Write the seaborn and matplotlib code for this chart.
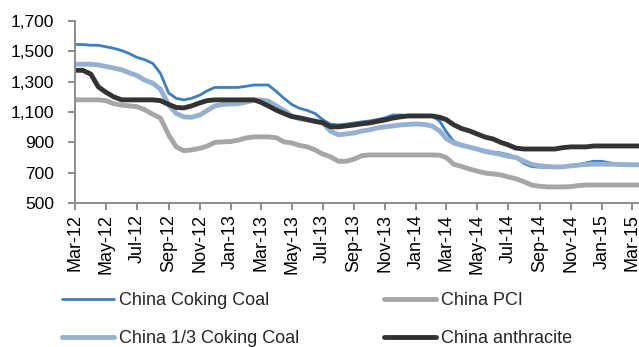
import numpy as np
import pandas as pd
import matplotlib
matplotlib.use("Agg")
import matplotlib.pyplot as plt
import matplotlib.dates as mdates
from matplotlib.ticker import FuncFormatter, FixedLocator
from matplotlib.lines import Line2D
import seaborn as sns

# Half-monthly observation dates (1st and 16th of each month), Mar 2012 - Mar 2015
dates = pd.to_datetime([f"{y}-{m:02d}-{d:02d}"
                        for y in range(2012, 2016) for m in range(1, 13) for d in (1, 16)])
dates = dates[(dates >= "2012-03-01") & (dates <= "2015-03-16")]

coking_coal = [
    1545, 1545, 1540, 1540, 1530, 1520, 1505, 1485, 1460, 1445,
    1420, 1355, 1226, 1190, 1180, 1190, 1210, 1240, 1262, 1262,
    1262, 1262, 1270, 1278, 1278, 1278, 1235, 1190, 1150, 1125,
    1110, 1090, 1050, 1020, 1015, 1020, 1028, 1035, 1041, 1050,
    1062, 1080, 1080, 1078, 1078, 1078, 1075, 1040, 970, 905,
    885, 870, 858, 848, 835, 830, 818, 800, 760, 740,
    736, 733, 735, 738, 745, 752, 765, 775, 775, 765,
    752, 750, 750, 750,
]
coking_13 = [
    1415, 1415, 1415, 1410, 1400, 1390, 1378, 1358, 1340, 1310,
    1290, 1250, 1150, 1090, 1068, 1065, 1080, 1110, 1140, 1150,
    1153, 1155, 1165, 1178, 1180, 1172, 1140, 1110, 1075, 1055,
    1048, 1040, 1028, 975, 950, 955, 962, 975, 982, 995,
    1002, 1008, 1015, 1018, 1021, 1018, 1008, 975, 925, 895,
    880, 868, 855, 840, 830, 820, 808, 800, 775, 755,
    745, 740, 738, 738, 745, 750, 754, 756, 756, 756,
    755, 753, 752, 752,
]
pci = [
    1180, 1180, 1180, 1180, 1175, 1155, 1145, 1140, 1135, 1115,
    1085, 1060, 950, 870, 845, 850, 860, 875, 900, 903,
    905, 915, 929, 936, 936, 936, 930, 903, 896, 880,
    870, 850, 823, 805, 775, 775, 790, 812, 817, 817,
    817, 817, 817, 817, 817, 817, 817, 815, 800, 755,
    740, 724, 710, 698, 692, 685, 672, 660, 640, 618,
    610, 606, 606, 606, 608, 615, 619, 619, 619, 619,
    619, 619, 619, 619,
]
anthracite = [
    1375, 1375, 1350, 1265, 1230, 1200, 1180, 1180, 1180, 1180,
    1180, 1175, 1150, 1130, 1127, 1140, 1160, 1175, 1180, 1180,
    1180, 1180, 1180, 1180, 1165, 1140, 1112, 1090, 1070, 1062,
    1050, 1038, 1030, 1003, 1002, 1008, 1015, 1022, 1028, 1038,
    1048, 1060, 1068, 1074, 1074, 1074, 1074, 1065, 1050, 1015,
    990, 975, 955, 935, 922, 900, 883, 862, 856, 856,
    856, 856, 856, 865, 870, 870, 870, 876, 876, 876,
    876, 876, 876, 876,
]

series_names = ["China Coking Coal", "China 1/3 Coking Coal", "China PCI", "China anthracite"]
series_values = [coking_coal, coking_13, pci, anthracite]
colors = ["#3F7FBF", "#95B0D0", "#A6A6A6", "#333333"]
widths = [2.0, 3.5, 3.5, 3.5]

sns.set_style("white")
plt.rcParams["font.family"] = ["Liberation Sans", "DejaVu Sans"]

fig = plt.figure(figsize=(6.39, 3.47), dpi=100)
ax = fig.add_axes([75 / 639, 1 - 203 / 347, 564 / 639, 182 / 347])

for name, vals, col, lw in zip(series_names, series_values, colors, widths):
    df = pd.DataFrame({"date": dates, "price": vals})
    sns.lineplot(data=df, x="date", y="price", ax=ax, color=col, linewidth=lw,
                 solid_joinstyle="round", legend=False)

ax.set_ylim(500, 1700)
ax.yaxis.set_major_locator(FixedLocator(np.arange(500, 1701, 200)))
ax.yaxis.set_major_formatter(FuncFormatter(lambda v, p: f"{v:,.0f}"))
ax.set_xlim(pd.Timestamp("2012-03-01"), pd.Timestamp("2015-03-15"))
ax.xaxis.set_major_locator(mdates.MonthLocator(bymonth=[1, 3, 5, 7, 9, 11]))
ax.xaxis.set_major_formatter(mdates.DateFormatter("%b-%y"))
ax.set_xlabel("")
ax.set_ylabel("")

for s in ["top", "right"]:
    ax.spines[s].set_visible(False)
for s in ["left", "bottom"]:
    ax.spines[s].set_color("#8C8C8C")
    ax.spines[s].set_linewidth(1.4)

ax.tick_params(axis="y", which="major", direction="out", length=5, width=1.4,
               color="#8C8C8C", labelsize=12.5, pad=10, labelcolor="black", left=True)
ax.tick_params(axis="x", which="major", direction="out", length=5, width=1.4,
               color="#8C8C8C", labelsize=13, pad=3, labelcolor="black",
               labelrotation=90, bottom=True)
ax.grid(False)

handles = [Line2D([0], [0], color=c, lw=lw) for c, lw in zip(colors, widths)]
fig.legend(handles, series_names, ncol=2, loc="upper left",
           bbox_to_anchor=(62 / 639, 1 - 292 / 347), frameon=False,
           fontsize=13, handlelength=2.9, handletextpad=0.25,
           columnspacing=4.7, labelspacing=1.18, borderpad=0, borderaxespad=0)

fig.savefig("out.png", dpi=100)
